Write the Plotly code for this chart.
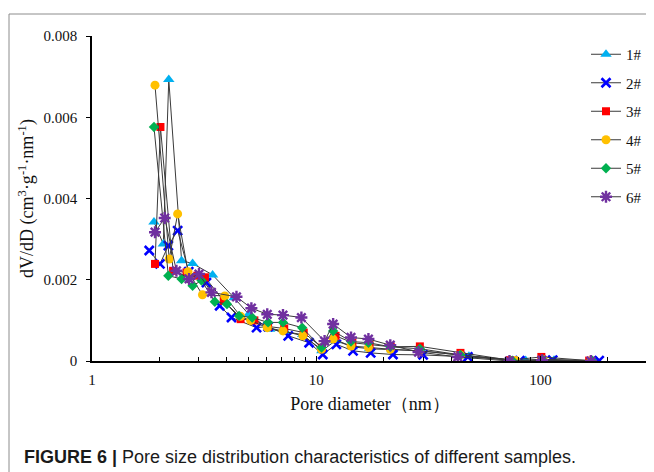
import math
import plotly.graph_objects as go

# ---------------- data ----------------
x1 = [1.89, 2.08, 2.20, 2.51, 2.81, 3.45, 4.30, 5.00, 6.20, 7.30, 8.70, 10.6, 12.2, 14.5, 17.3, 21.8, 29.5, 48.0, 86.0, 115.0, 178.0]
y1 = [0.00342, 0.00288, 0.00693, 0.00247, 0.00240, 0.00212, 0.00156, 0.00115, 0.00078, 0.00072, 0.00065, 0.00025, 0.00050, 0.00035, 0.00030, 0.00028, 0.00025, 0.00012, 0.00001, 0.00002, 0.0]

x2 = [1.80, 2.01, 2.19, 2.41, 2.70, 3.24, 3.71, 4.19, 5.42, 6.10, 7.50, 9.30, 10.7, 12.3, 14.6, 17.5, 22.0, 30.0, 47.5, 81.0, 113.5, 183.0]
y2 = [0.00272, 0.00239, 0.00284, 0.00321, 0.00220, 0.00193, 0.00136, 0.00107, 0.00082, 0.00085, 0.00062, 0.00045, 0.00016, 0.00041, 0.00025, 0.00020, 0.00016, 0.00015, 0.00010, 0.00001, 0.00002, 0.00001]

x3 = [1.91, 2.02, 2.30, 2.64, 2.95, 3.19, 3.87, 4.60, 5.30, 6.10, 7.20, 8.80, 10.6, 12.2, 14.5, 17.3, 21.5, 29.0, 44.0, 73.0, 101.0, 165.0]
y3 = [0.00239, 0.00576, 0.00222, 0.00218, 0.00210, 0.00206, 0.00148, 0.00103, 0.00100, 0.00085, 0.00080, 0.00070, 0.00033, 0.00062, 0.00045, 0.00040, 0.00035, 0.00036, 0.00020, 0.00002, 0.00010, 0.00001]

x4 = [1.91, 2.21, 2.41, 2.68, 3.11, 3.91, 4.60, 5.10, 6.05, 7.11, 8.72, 10.56, 11.9, 14.3, 17.1, 21.4, 28.8, 44.0, 77.8, 103.0, 168.0]
y4 = [0.00679, 0.00251, 0.00362, 0.00220, 0.00163, 0.00160, 0.00110, 0.00100, 0.00082, 0.00074, 0.00062, 0.00029, 0.00054, 0.00037, 0.00033, 0.00029, 0.00025, 0.00015, 0.00001, 0.00003, 0.0]

x5 = [1.89, 2.19, 2.51, 2.81, 3.08, 3.53, 4.00, 4.53, 5.18, 6.10, 7.11, 8.66, 10.56, 11.9, 14.3, 17.1, 21.4, 29.0, 44.0, 75.0, 102.0, 170.0]
y5 = [0.00576, 0.00210, 0.00202, 0.00185, 0.00198, 0.00146, 0.00140, 0.00111, 0.00107, 0.00095, 0.00095, 0.00082, 0.00033, 0.00074, 0.00048, 0.00045, 0.00035, 0.00030, 0.00015, 0.00001, 0.00004, 0.00001]

x6 = [1.91, 2.11, 2.38, 2.71, 3.00, 3.41, 4.41, 5.14, 6.05, 7.11, 8.59, 10.9, 11.9, 14.3, 17.1, 21.4, 28.6, 42.8, 72.8, 101.7, 168.0]
y6 = [0.00317, 0.00352, 0.00222, 0.00202, 0.00214, 0.00169, 0.00158, 0.00130, 0.00115, 0.00113, 0.00107, 0.00049, 0.00091, 0.00058, 0.00054, 0.00039, 0.00022, 0.00010, 0.0, 0.00002, 0.0]

names = ["1#", "2#", "3#", "4#", "5#", "6#"]
y_ticks = [0, 0.002, 0.004, 0.006, 0.008]
y_ticktext = ["0", "0.002", "0.004", "0.006", "0.008"]
x_ticks = [1, 10, 100]
x_ticktext = ["1", "10", "100"]

x_title = "Pore diameter（nm）"
y_title = "dV/dD (cm<sup>3</sup>·g<sup>-1</sup>·nm<sup>-1</sup>)"
caption = "<b>FIGURE 6 |</b> Pore size distribution characteristics of different samples."

# ---------------- styling ----------------
SERIF = "Liberation Serif, Times New Roman, serif"
SANS = "Liberation Sans, Arial, sans-serif"
LINE = "#3a3a3a"

styles = [
    dict(symbol="triangle-up", size=10, color="#00B0F0", line=dict(width=0)),
    dict(symbol="x-thin-open", size=9, color="#0000FF", line=dict(width=2.6, color="#0000FF")),
    dict(symbol="square", size=8, color="#FF0000", line=dict(width=0)),
    dict(symbol="circle", size=9, color="#FFC000", line=dict(width=0)),
    dict(symbol="diamond", size=8, color="#00B050", line=dict(width=0)),
    dict(symbol="asterisk-open", size=10, color="#7030A0", line=dict(width=2.4, color="#7030A0")),
]

fig = go.Figure()
for i, (xs, ys) in enumerate([(x1, y1), (x2, y2), (x3, y3), (x4, y4), (x5, y5), (x6, y6)]):
    fig.add_trace(go.Scatter(
        x=xs, y=ys, name=names[i], mode="lines+markers",
        line=dict(color=LINE, width=1),
        marker=styles[i], legendgroup=names[i],
    ))

# page has an 8px body margin: the figure is drawn 8px right/down
OFF = 8
W, H = 654 - OFF, 472 - OFF
# plot area in reference-page pixels: x 92..648, y 36..361
L, R, T, B = 92 - OFF, 654 - 648, 36 - OFF, 472 - 361
pw, ph = W - L - R, H - T - B

def px_x(p):  # reference page pixel -> paper
    return (p - OFF - L) / pw

def px_y(p):
    return (H - B - (p - OFF)) / ph

minor_vals = [m * 10 ** d for d in range(0, 3) for m in range(2, 10) if m * 10 ** d <= 300]

fig.update_layout(
    width=W, height=H, autosize=False,
    margin=dict(l=L, r=R, t=T, b=B),
    paper_bgcolor="white", plot_bgcolor="white",
    font=dict(family=SERIF, size=15, color="#111111"),
    showlegend=True,
    legend=dict(
        x=px_x(586), y=px_y(38), xanchor="left", yanchor="top",
        font=dict(family=SERIF, size=15, color="#111111"),
        traceorder="grouped", tracegroupgap=6,
        bgcolor="rgba(0,0,0,0)", itemwidth=30,
    ),
    xaxis=dict(
        type="log", range=[0, 2.48],
        tickvals=x_ticks, ticktext=x_ticktext,
        ticks="inside", ticklen=5, tickwidth=1.2, tickcolor="black",
        showline=True, linecolor="black", linewidth=1.5,
        showgrid=False, zeroline=False,
        minor=dict(tickvals=minor_vals, ticks="inside", ticklen=4, tickcolor="black", tickwidth=1, showgrid=False),
        title=dict(text=x_title, font=dict(family=SERIF, size=18), standoff=11),
        ticklabelstandoff=4,
    ),
    yaxis=dict(
        range=[0, 0.008],
        tickvals=y_ticks, ticktext=y_ticktext,
        ticks="outside", ticklen=4, tickwidth=1.2, tickcolor="black",
        showline=True, linecolor="black", linewidth=1.5,
        showgrid=False, zeroline=False,
        title=dict(text=y_title, font=dict(family=SERIF, size=18), standoff=5),
        ticklabelstandoff=6,
    ),
    shapes=[dict(
        type="rect", xref="paper", yref="paper",
        x0=px_x(9), x1=px_x(700), y0=px_y(520), y1=px_y(14),
        line=dict(color="#8c8c8c", width=1), fillcolor="rgba(0,0,0,0)", layer="below",
    )],
    annotations=[dict(
        text=caption, xref="paper", yref="paper",
        x=px_x(22), y=px_y(457), xanchor="left", yanchor="middle",
        showarrow=False, font=dict(family=SANS, size=18, color="#1a1a1a"),
    )],
)

fig.write_html("out.html")
